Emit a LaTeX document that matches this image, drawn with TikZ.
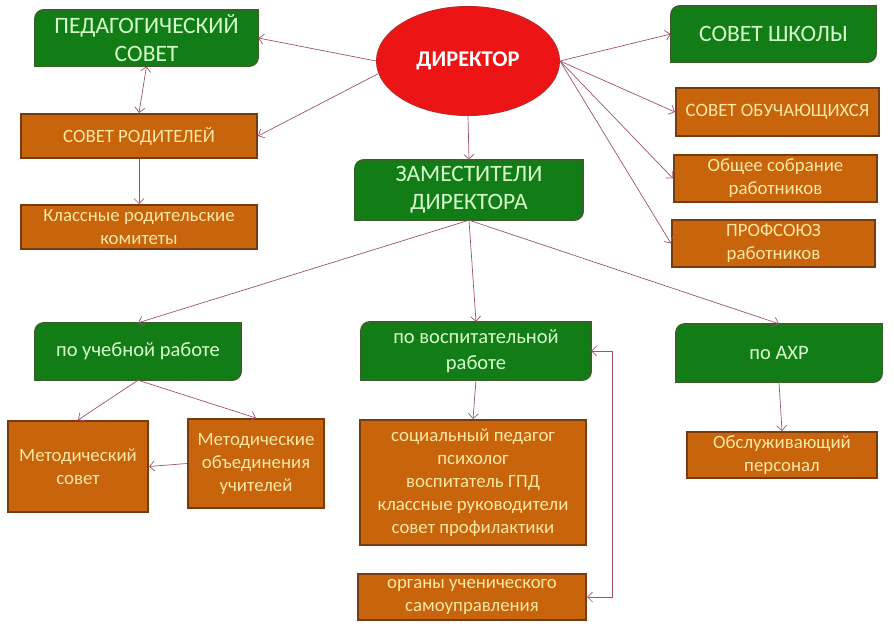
\documentclass[tikz,border=0pt]{standalone}
\usepackage{fontspec}
\setmainfont{Carlito}
\usetikzlibrary{arrows.meta,backgrounds,shapes.geometric}

\definecolor{grfill}{RGB}{18,125,22}
\definecolor{grline}{RGB}{60,95,40}
\definecolor{grtext}{RGB}{215,255,205}
\definecolor{orfill}{RGB}{200,100,12}
\definecolor{orline}{RGB}{120,58,15}
\definecolor{ortext}{RGB}{255,232,165}
\definecolor{dirfill}{RGB}{236,20,20}
\definecolor{dirline}{RGB}{190,40,40}
\definecolor{linkc}{RGB}{160,82,112}

\tikzset{
  orbox/.style = {rectangle, draw=orline, line width=2pt, fill=orfill,
    text=ortext, align=center, inner sep=1pt,
    font=\fontsize{18.8}{23}\selectfont},
  grbox/.style = {rectangle, text=grtext, align=center, inner sep=1pt,
    font=\fontsize{20.5}{26}\selectfont},
  bigcaps/.style = {font=\fontsize{23.5}{28}\selectfont},
  link/.style = {draw=linkc, line width=0.7pt,
    -{Straight Barb[length=5pt,width=10pt]}},
  both/.style = {{Straight Barb[length=5pt,width=10pt]}-{Straight Barb[length=5pt,width=10pt]}}
}

\begin{document}
\begin{tikzpicture}[x=1pt, y=1pt]
  \useasboundingbox (0,0) rectangle (894,-631);

  % director
  \node[ellipse, draw=dirline, line width=1pt, fill=dirfill, text=white,
        minimum width=183, minimum height=109,
        font=\fontsize{22.5}{26}\selectfont\bfseries] (dir) at (468,-61) {ДИРЕКТОР};

  % green boxes
  \node[grbox, bigcaps, minimum width=223, minimum height=56] (ped) at (146.5,-38) {ПЕДАГОГИЧЕСКИЙ\\СОВЕТ};
  \node[grbox, bigcaps, minimum width=205, minimum height=56] (school) at (773.5,-34) {СОВЕТ ШКОЛЫ};
  \node[grbox, bigcaps, minimum width=228, minimum height=60] (zam) at (469,-190) {ЗАМЕСТИТЕЛИ\\ДИРЕКТОРА};
  \node[grbox, minimum width=206, minimum height=57] (ucheb) at (138,-351.5) {по учебной работе};
  \node[grbox, minimum width=230, minimum height=58] (vosp) at (476,-351) {по воспитательной\\работе};
  \node[grbox, minimum width=206, minimum height=58] (ahr) at (779,-353) {по АХР};

  % orange boxes
  \node[orbox, minimum width=236, minimum height=44] (rod) at (139,-136) {СОВЕТ РОДИТЕЛЕЙ};
  \node[orbox, minimum width=236, minimum height=44] (kom) at (139,-227) {Классные родительские\\комитеты};
  \node[orbox, minimum width=203, minimum height=48] (obuch) at (777.5,-112) {СОВЕТ ОБУЧАЮЩИХСЯ};
  \node[orbox, minimum width=203, minimum height=47] (sobr) at (775.5,-178.5) {Общее собрание\\работников};
  \node[orbox, minimum width=203, minimum height=47] (prof) at (773.5,-243.5) {ПРОФСОЮЗ\\работников};
  \node[orbox, minimum width=140, minimum height=91] (metsov) at (78,-466.5) {Методический\\совет};
  \node[orbox, minimum width=136, minimum height=89] (metob) at (256,-463.5) {Методические\\объединения\\учителей};
  \node[orbox, minimum width=226, minimum height=125] (soc) at (473,-482.5)
    {социальный педагог\\психолог\\воспитатель ГПД\\классные руководители\\совет профилактики};
  \node[orbox, minimum width=228, minimum height=46] (org) at (472,-597) {органы ученического\\самоуправления};
  \node[orbox, minimum width=190, minimum height=46] (obsl) at (782,-455) {Обслуживающий\\персонал};

  % green shapes, rounded on two corners
  \begin{scope}[on background layer]
    \foreach \n in {ped,school,zam,ucheb,vosp,ahr}
      \draw[fill=grfill, draw=grline, line width=1.5pt]
        (\n.south west) -- ([yshift=-9pt]\n.north west)
        arc[start angle=180, end angle=90, radius=9pt] -- (\n.north east)
        -- ([yshift=9pt]\n.south east)
        arc[start angle=0, end angle=-90, radius=9pt] -- cycle;
  \end{scope}

  % connectors
  \draw[link] (dir.west) -- (ped.east);
  \draw[link] (dir.188) -- (rod.east);
  \draw[link, both] (ped.south) -- (rod.north);
  \draw[link] (rod.south) -- (kom.north);
  \draw[link] (dir.east) -- (school.west);
  \draw[link] (dir.east) -- (obuch.west);
  \draw[link] (dir.east) -- (sobr.west);
  \draw[link] (dir.east) -- (prof.west);
  \draw[link] (dir.south) -- (zam.north);
  \draw[link] (zam.south) -- (ucheb.north);
  \draw[link] (zam.south) -- (vosp.north);
  \draw[link] (zam.south) -- (ahr.north);
  \draw[link] (ucheb.south) -- (metsov.north);
  \draw[link] (ucheb.south) -- (metob.north);
  \draw[link] (metob.west) -- (metsov.east);
  \draw[link] (vosp.south) -- (soc.north);
  \draw[link] (ahr.south) -- (obsl.north);
  \draw[link, both] (vosp.east) -- ++(21,0) |- (org.east);
\end{tikzpicture}
\end{document}
